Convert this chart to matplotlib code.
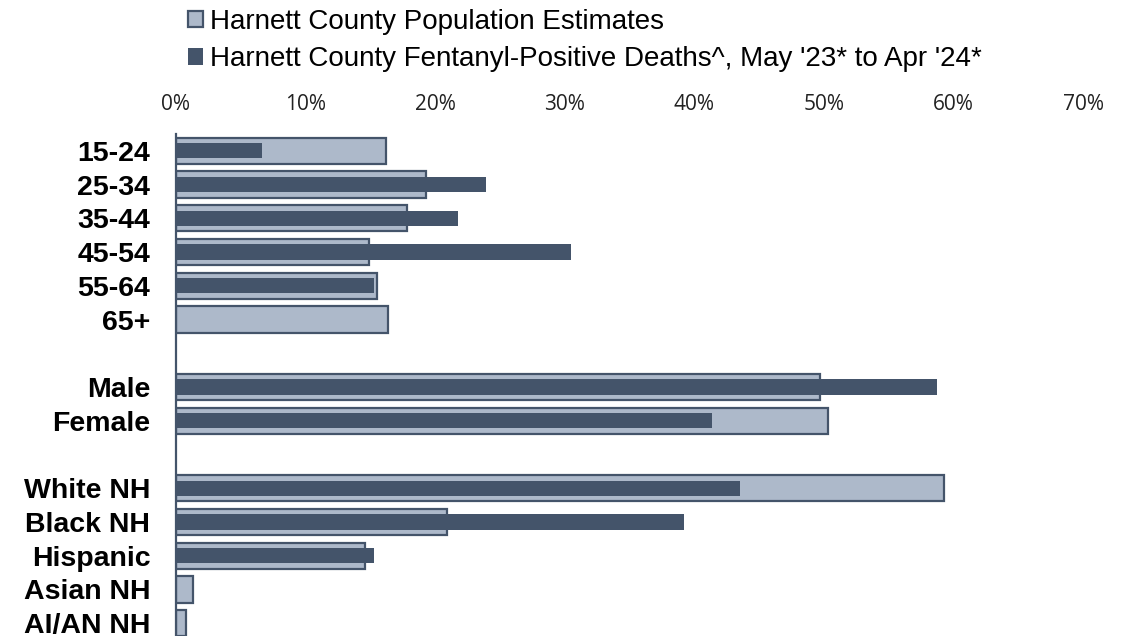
import numpy as np
import matplotlib
matplotlib.use("Agg")
import matplotlib.pyplot as plt
from matplotlib.ticker import PercentFormatter

# categories (blank strings are the gaps between groups)
groups = ['15-24', '25-34', '35-44', '45-54', '55-64', '65+', '',
          'Male', 'Female', '',
          'White NH', 'Black NH', 'Hispanic', 'Asian NH', 'AI/AN NH']

# percent of county population
pop_pct = [16.2, 19.3, 17.8, 14.9, 15.5, 16.4, np.nan,
           49.7, 50.3, np.nan,
           59.3, 20.9, 14.6, 1.3, 0.8]

# percent of fentanyl-positive deaths
death_pct = [6.6, 23.9, 21.8, 30.5, 15.3, 0.0, np.nan,
             58.7, 41.4, np.nan,
             43.5, 39.2, 15.3, 0.0, 0.0]

light = '#ADB9CA'
dark = '#44546A'

fig = plt.figure(figsize=(11.28, 6.36), dpi=100)
ax = fig.add_axes([176/1128, -4/636, 907/1128, 506/636])

y = np.arange(len(groups))
b1 = ax.barh(y, pop_pct, height=0.78, color=light, edgecolor=dark, linewidth=1.6,
             label='Harnett County Population Estimates', zorder=2)
b2 = ax.barh(y, death_pct, height=0.45, color=dark, linewidth=0,
             label="Harnett County Fentanyl-Positive Deaths^, May '23* to Apr '24*", zorder=3)

ax.set_xlim(0, 70)
ax.set_ylim(len(groups) - 0.5, -0.5)
ax.set_xticks(np.arange(0, 71, 10))
ax.xaxis.set_major_formatter(PercentFormatter(decimals=0))
ax.xaxis.tick_top()
ax.tick_params(axis='x', length=0, pad=13.5, labelsize=15, labelcolor='#222222')
for lab in ax.get_xticklabels():
    lab.set_fontfamily('Open Sans')

ax.set_yticks(y)
ax.set_yticklabels(groups, fontsize=20.5, fontweight='bold', fontfamily='Liberation Sans')
ax.tick_params(axis='y', length=0, pad=18.5)

for s in ['top', 'right', 'bottom']:
    ax.spines[s].set_visible(False)
ax.spines['left'].set_color(dark)
ax.spines['left'].set_linewidth(1.6)
ax.spines['left'].set_zorder(4)

fig.legend(handles=[b1, b2], loc='upper left', bbox_to_anchor=(174/1128, 1.008),
           frameon=False, prop={'family': 'Liberation Sans', 'size': 20},
           handlelength=0.55, handleheight=0.55, handletextpad=0.25,
           labelspacing=0.42, borderaxespad=0.1)

fig.savefig('out.png', dpi=100)
